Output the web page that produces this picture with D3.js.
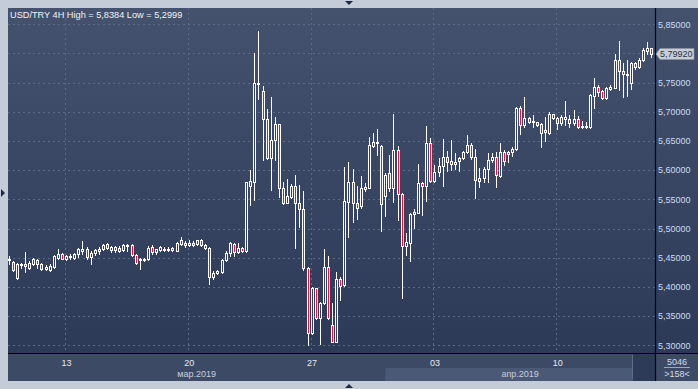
<!DOCTYPE html>
<html><head><meta charset="utf-8">
<script src="https://cdn.jsdelivr.net/npm/d3@7"></script>
<style>html,body{margin:0;padding:0;background:#c4ccd8;}svg{display:block;}</style>
</head><body>
<svg id="c" width="698" height="389"></svg>
<script>
// ---- data (USD/TRY 4H, 158 candles) ----
const open = [5.4457,5.4429,5.4160,5.4371,5.4354,5.4331,5.4400,5.4469,5.4400,5.4314,
5.4297,5.4343,5.4503,5.4566,5.4486,5.4514,5.4503,5.4571,5.4611,5.4646,
5.4514,5.4589,5.4611,5.4646,5.4731,5.4629,5.4629,5.4674,5.4629,5.4703,
5.4714,5.4554,5.4457,5.4457,5.4474,5.4686,5.4600,5.4629,5.4634,5.4646,
5.4669,5.4617,5.4743,5.4760,5.4714,5.4726,5.4743,5.4811,5.4726,5.4674,
5.4171,5.4240,5.4257,5.4457,5.4575,5.4736,5.4605,5.4662,5.4622,5.5736,
5.5804,5.7472,5.7357,5.6872,5.6204,5.6518,5.6786,5.5690,5.5444,5.5547,
5.5730,5.5444,5.5330,5.4319,5.3206,5.3977,5.3474,5.3731,5.4336,5.3348,
5.3063,5.4136,5.4034,5.5461,5.5793,5.5433,5.5387,5.5678,5.5701,5.6421,
5.6461,5.6415,5.5564,5.5947,5.5690,5.6347,5.5593,5.4708,5.4759,5.5244,
5.5273,5.5781,5.5730,5.6461,5.5816,5.5975,5.6078,5.6232,5.6157,5.6100,
5.6157,5.6202,5.6305,5.6431,5.6231,5.5820,5.5860,5.6020,5.6174,5.6220,
5.5905,5.6305,5.6271,5.6305,5.6357,5.7059,5.6774,5.6888,5.6819,5.6819,
5.6785,5.6659,5.6631,5.6956,5.6888,5.6802,5.6876,5.6876,5.6802,5.6876,
5.6745,5.6745,5.6745,5.7276,5.7419,5.7356,5.7242,5.7390,5.7413,5.7887,
5.7699,5.7630,5.7499,5.7830,5.7773,5.7887,5.8047,5.8087];
const high = [5.4526,5.4451,5.4411,5.4417,5.4600,5.4440,5.4497,5.4486,5.4417,5.4383,
5.4400,5.4543,5.4646,5.4589,5.4554,5.4560,5.4589,5.4669,5.4783,5.4686,
5.4611,5.4646,5.4686,5.4743,5.4754,5.4703,5.4697,5.4703,5.4743,5.4743,
5.4731,5.4571,5.4503,5.4497,5.4697,5.4714,5.4657,5.4703,5.4686,5.4686,
5.4686,5.4771,5.4857,5.4783,5.4800,5.4783,5.4811,5.4829,5.4743,5.4686,
5.4269,5.4286,5.4486,5.4611,5.4776,5.4759,5.4759,5.4679,5.5804,5.6004,
5.8014,5.8384,5.7443,5.7049,5.7249,5.6906,5.6792,5.5793,5.5844,5.5764,
5.5918,5.5747,5.5644,5.4348,5.4005,5.3988,5.3748,5.4645,5.4531,5.3720,
5.4262,5.4165,5.6061,5.6135,5.6021,5.5730,5.5901,5.5787,5.6564,5.6644,
5.6706,5.6427,5.5947,5.6261,5.6963,5.6421,5.5616,5.4919,5.5273,5.5336,
5.6107,5.5804,5.6758,5.6547,5.6090,5.6215,5.6535,5.6330,5.6517,5.6288,
5.6231,5.6328,5.6602,5.6459,5.6362,5.6043,5.6060,5.6288,5.6300,5.6305,
5.6459,5.6345,5.6328,5.6402,5.7088,5.7100,5.7259,5.6916,5.6945,5.6831,
5.6802,5.6916,5.7002,5.6968,5.6916,5.6945,5.7185,5.6945,5.7031,5.6933,
5.6842,5.6819,5.7299,5.7573,5.7459,5.7373,5.7430,5.7459,5.7984,5.8213,
5.7830,5.7887,5.7859,5.7847,5.7916,5.8087,5.8190,5.8099];
const low = [5.4400,5.4269,5.4131,5.4326,5.4257,5.4314,5.4371,5.4326,5.4297,5.4286,
5.4274,5.4331,5.4486,5.4474,5.4469,5.4486,5.4486,5.4514,5.4571,5.4486,
5.4400,5.4554,5.4571,5.4629,5.4646,5.4600,5.4600,5.4600,5.4611,5.4611,
5.4531,5.4400,5.4314,5.4440,5.4457,5.4571,5.4571,5.4611,5.4611,5.4611,
5.4611,5.4611,5.4726,5.4686,5.4697,5.4703,5.4714,5.4697,5.4657,5.4057,
5.4143,5.4229,5.4246,5.4440,5.4531,5.4531,5.4588,5.4605,5.4593,5.5404,
5.5490,5.7220,5.6175,5.6187,5.5661,5.6175,5.5536,5.5416,5.5433,5.5530,
5.4673,5.5033,5.4291,5.2999,5.3194,5.3451,5.3017,5.3708,5.3445,5.3051,
5.3051,5.3777,5.4022,5.4862,5.5119,5.5164,5.5347,5.5650,5.5690,5.6404,
5.6261,5.4959,5.5216,5.5644,5.5461,5.5147,5.3817,5.4548,5.4451,5.5016,
5.5262,5.5233,5.5473,5.5793,5.5793,5.5901,5.5736,5.5993,5.6003,5.6020,
5.5985,5.6191,5.6288,5.6191,5.5529,5.5717,5.5803,5.5791,5.6134,5.5706,
5.5888,5.6088,5.6134,5.6248,5.6345,5.6614,5.6745,5.6802,5.6745,5.6762,
5.6402,5.6499,5.6614,5.6876,5.6705,5.6774,5.6774,5.6745,5.6774,5.6728,
5.6716,5.6716,5.6716,5.7059,5.7270,5.7219,5.7219,5.7373,5.7402,5.7373,
5.7259,5.7276,5.7390,5.7727,5.7756,5.7870,5.7984,5.7944];
const close = [5.4486,5.4286,5.4400,5.4400,5.4389,5.4417,5.4474,5.4389,5.4314,5.4343,
5.4360,5.4526,5.4571,5.4486,5.4531,5.4531,5.4571,5.4646,5.4646,5.4514,
5.4589,5.4629,5.4657,5.4726,5.4669,5.4680,5.4680,5.4617,5.4726,5.4714,
5.4554,5.4411,5.4486,5.4486,5.4669,5.4600,5.4646,5.4686,5.4657,5.4657,
5.4629,5.4760,5.4800,5.4714,5.4760,5.4760,5.4800,5.4714,5.4669,5.4171,
5.4246,5.4269,5.4457,5.4575,5.4748,5.4605,5.4662,5.4622,5.5793,5.5816,
5.7489,5.7495,5.6872,5.6204,5.6518,5.6792,5.5690,5.5444,5.5559,5.5730,
5.5444,5.5330,5.4319,5.3206,5.3988,5.3474,5.3731,5.4336,5.3463,5.3063,
5.4131,5.4022,5.5473,5.5793,5.5433,5.5347,5.5690,5.5713,5.6432,5.6478,
5.6478,5.5416,5.5918,5.5690,5.6347,5.5587,5.4708,5.4765,5.5244,5.5279,
5.5776,5.5730,5.6461,5.5816,5.5975,5.6073,5.6232,5.6147,5.6100,5.6145,
5.6214,5.6305,5.6431,5.6231,5.5831,5.5860,5.6020,5.6174,5.6220,5.5917,
5.6305,5.6157,5.6317,5.6362,5.7059,5.6774,5.6888,5.6831,5.6836,5.6774,
5.6631,5.6682,5.6956,5.6888,5.6802,5.6916,5.6911,5.6802,5.6876,5.6745,
5.6756,5.6756,5.7288,5.7430,5.7345,5.7242,5.7402,5.7430,5.7887,5.7699,
5.7642,5.7642,5.7830,5.7773,5.7887,5.8059,5.8087,5.7992];

const priceTicks = [5.30,5.35,5.40,5.45,5.50,5.55,5.60,5.65,5.70,5.75,5.80,5.85];
const dayTickIndex = [14,44,74,104,134];
const dayTickLabels = ["13","20","27","03","10"];
const monthLabels = ["мар.2019","апр.2019"];
const monthStartIndex = [0,92];
const titleText = "USD/TRY 4H High = 5,8384 Low = 5,2999";
const lastPriceText = "5,79920";
const barsTotal = "5046";
const barsVisible = ">158<";

// ---- layout ----
const W = 698, H = 389;
const L = 8, T = 8, R = 655, B = 353, AB = 381;
const svg = d3.select("#c");
const defs = svg.append("defs");
const grad = defs.append("linearGradient").attr("id","bg").attr("x1",0).attr("y1",0).attr("x2",0).attr("y2",1);
grad.append("stop").attr("offset","0%").attr("stop-color","#44526e");
grad.append("stop").attr("offset","100%").attr("stop-color","#2c3a58");
defs.append("clipPath").attr("id","plotclip").append("rect").attr("x",L).attr("y",T).attr("width",R-L).attr("height",B-T);

// frame
svg.append("rect").attr("x",0).attr("y",0).attr("width",W).attr("height",H).attr("fill","#c4ccd8");
svg.append("rect").attr("x",L).attr("y",T).attr("width",W-L).attr("height",B-T).attr("fill","url(#bg)");
// bottom axis band
svg.append("rect").attr("x",L).attr("y",B).attr("width",W-L).attr("height",AB-B).attr("fill","#3c4a66");

const n = open.length;
const x = d3.scaleLinear().domain([0, n-1]).range([8.75, 651.35]);
const y = d3.scaleLinear().domain([5.30, 5.85]).range([345.3, 24.3]);

// month highlight band (current month) + scroll thumb
const aprX = x(monthStartIndex[1]);
svg.append("rect").attr("x",aprX).attr("y",368).attr("width",R-aprX).attr("height",AB-368).attr("fill","#4a5976");
svg.append("rect").attr("x",633).attr("y",B).attr("width",R-633).attr("height",AB-B).attr("fill","#2d3b58");
svg.append("line").attr("x1",632.5).attr("x2",632.5).attr("y1",B+2).attr("y2",AB-2).attr("stroke","#5e6c88");

// grid
const g = svg.append("g");
g.selectAll("line.h").data(priceTicks).join("line")
  .attr("x1",L).attr("x2",R).attr("y1",d=>Math.round(y(d))+0.5).attr("y2",d=>Math.round(y(d))+0.5)
  .attr("stroke","#5a6a86").attr("stroke-dasharray","2,3");
g.selectAll("line.v").data(dayTickIndex).join("line")
  .attr("x1",d=>Math.round(x(d))-0.5).attr("x2",d=>Math.round(x(d))-0.5).attr("y1",T).attr("y2",B)
  .attr("stroke","#5a6a86").attr("stroke-dasharray","2,3");

// candles
const idx = d3.range(n);
const cg = svg.append("g").attr("clip-path","url(#plotclip)");
cg.selectAll("line.w").data(idx).join("line")
  .attr("x1",i=>Math.round(x(i))+0.5).attr("x2",i=>Math.round(x(i))+0.5)
  .attr("y1",i=>Math.round(y(high[i]))).attr("y2",i=>Math.round(y(low[i]))+1)
  .attr("stroke","#ffffff").attr("stroke-width",1);
cg.selectAll("rect.b").data(idx).join("rect")
  .attr("x",i=>Math.round(x(i))-0.5).attr("width",2)
  .attr("y",i=>Math.round(y(Math.max(open[i],close[i])))+0.5)
  .attr("height",i=>Math.max(1, Math.round(y(Math.min(open[i],close[i]))) - Math.round(y(Math.max(open[i],close[i])))))
  .attr("fill",i=>close[i] < open[i] ? "#e2143e" : "#33415f")
  .attr("stroke","#ffffff").attr("stroke-width",1);

// separators
svg.append("line").attr("x1",L).attr("x2",W).attr("y1",B+0.5).attr("y2",B+0.5).attr("stroke","#000").attr("stroke-width",1.2);
svg.append("line").attr("x1",R+0.5).attr("x2",R+0.5).attr("y1",T).attr("y2",AB).attr("stroke","#000").attr("stroke-width",1.2);

const font = "'Liberation Sans', Arial, sans-serif";
// right price axis (the label hidden under the last-price tag is skipped)
const lpY = y(close[n-1]);
const fmt = v => d3.format(".5f")(v).replace(".", ",");
svg.append("g").selectAll("text").data(priceTicks.filter(t => Math.abs(y(t) - lpY) > 9)).join("text")
  .attr("x",658).attr("y",d=>y(d)+3.2).text(fmt)
  .attr("font-family",font).attr("font-size","9px").attr("fill","#cddcf2");

// last price tag
svg.append("path").attr("d",`M656,${lpY} L660,${lpY-5.5} L694,${lpY-5.5} L694,${lpY+5.5} L660,${lpY+5.5} Z`)
  .attr("fill","#c9ced6").attr("stroke","#8a93a3").attr("stroke-width",0.6);
svg.append("text").attr("x",660).attr("y",lpY+3.3).text(lastPriceText)
  .attr("font-family",font).attr("font-size","9px").attr("fill","#2a3142");

// date axis
svg.append("g").selectAll("text").data(dayTickIndex).join("text")
  .attr("x",d=>x(d)+0.5).attr("y",365.6).attr("text-anchor","middle").text((d,k)=>dayTickLabels[k])
  .attr("font-family",font).attr("font-size","9px").attr("fill","#e4e9f2");
const monthCenters = [ (L + aprX)/2, (aprX + R)/2 ];
svg.append("g").selectAll("text").data(monthLabels).join("text")
  .attr("x",(d,k)=>monthCenters[k]).attr("y",376.6).attr("text-anchor","middle").text(d=>d)
  .attr("font-family",font).attr("font-size","9px").attr("fill","#c6cedb");

// bars counter
svg.append("text").attr("x",677).attr("y",365).attr("text-anchor","middle").text(barsTotal)
  .attr("font-family",font).attr("font-size","9px").attr("fill","#d4dcea");
svg.append("line").attr("x1",664).attr("x2",690).attr("y1",367.5).attr("y2",367.5).attr("stroke","#9aa6ba");
svg.append("text").attr("x",677).attr("y",377.3).attr("text-anchor","middle").text(barsVisible)
  .attr("font-family",font).attr("font-size","9px").attr("fill","#d4dcea");

// title
svg.append("text").attr("x",10).attr("y",17.6).text(titleText)
  .attr("font-family",font).attr("font-size","9.2px").attr("fill","#f2f4f8");

// frame arrows
svg.append("path").attr("d","M345,1 L353,1 L349,5 Z").attr("fill","#1f2b42");
svg.append("path").attr("d","M345,388 L353,388 L349,384 Z").attr("fill","#1f2b42");
svg.append("path").attr("d","M1,189 L1,197 L5,193 Z").attr("fill","#1f2b42");
</script>
</body></html>
